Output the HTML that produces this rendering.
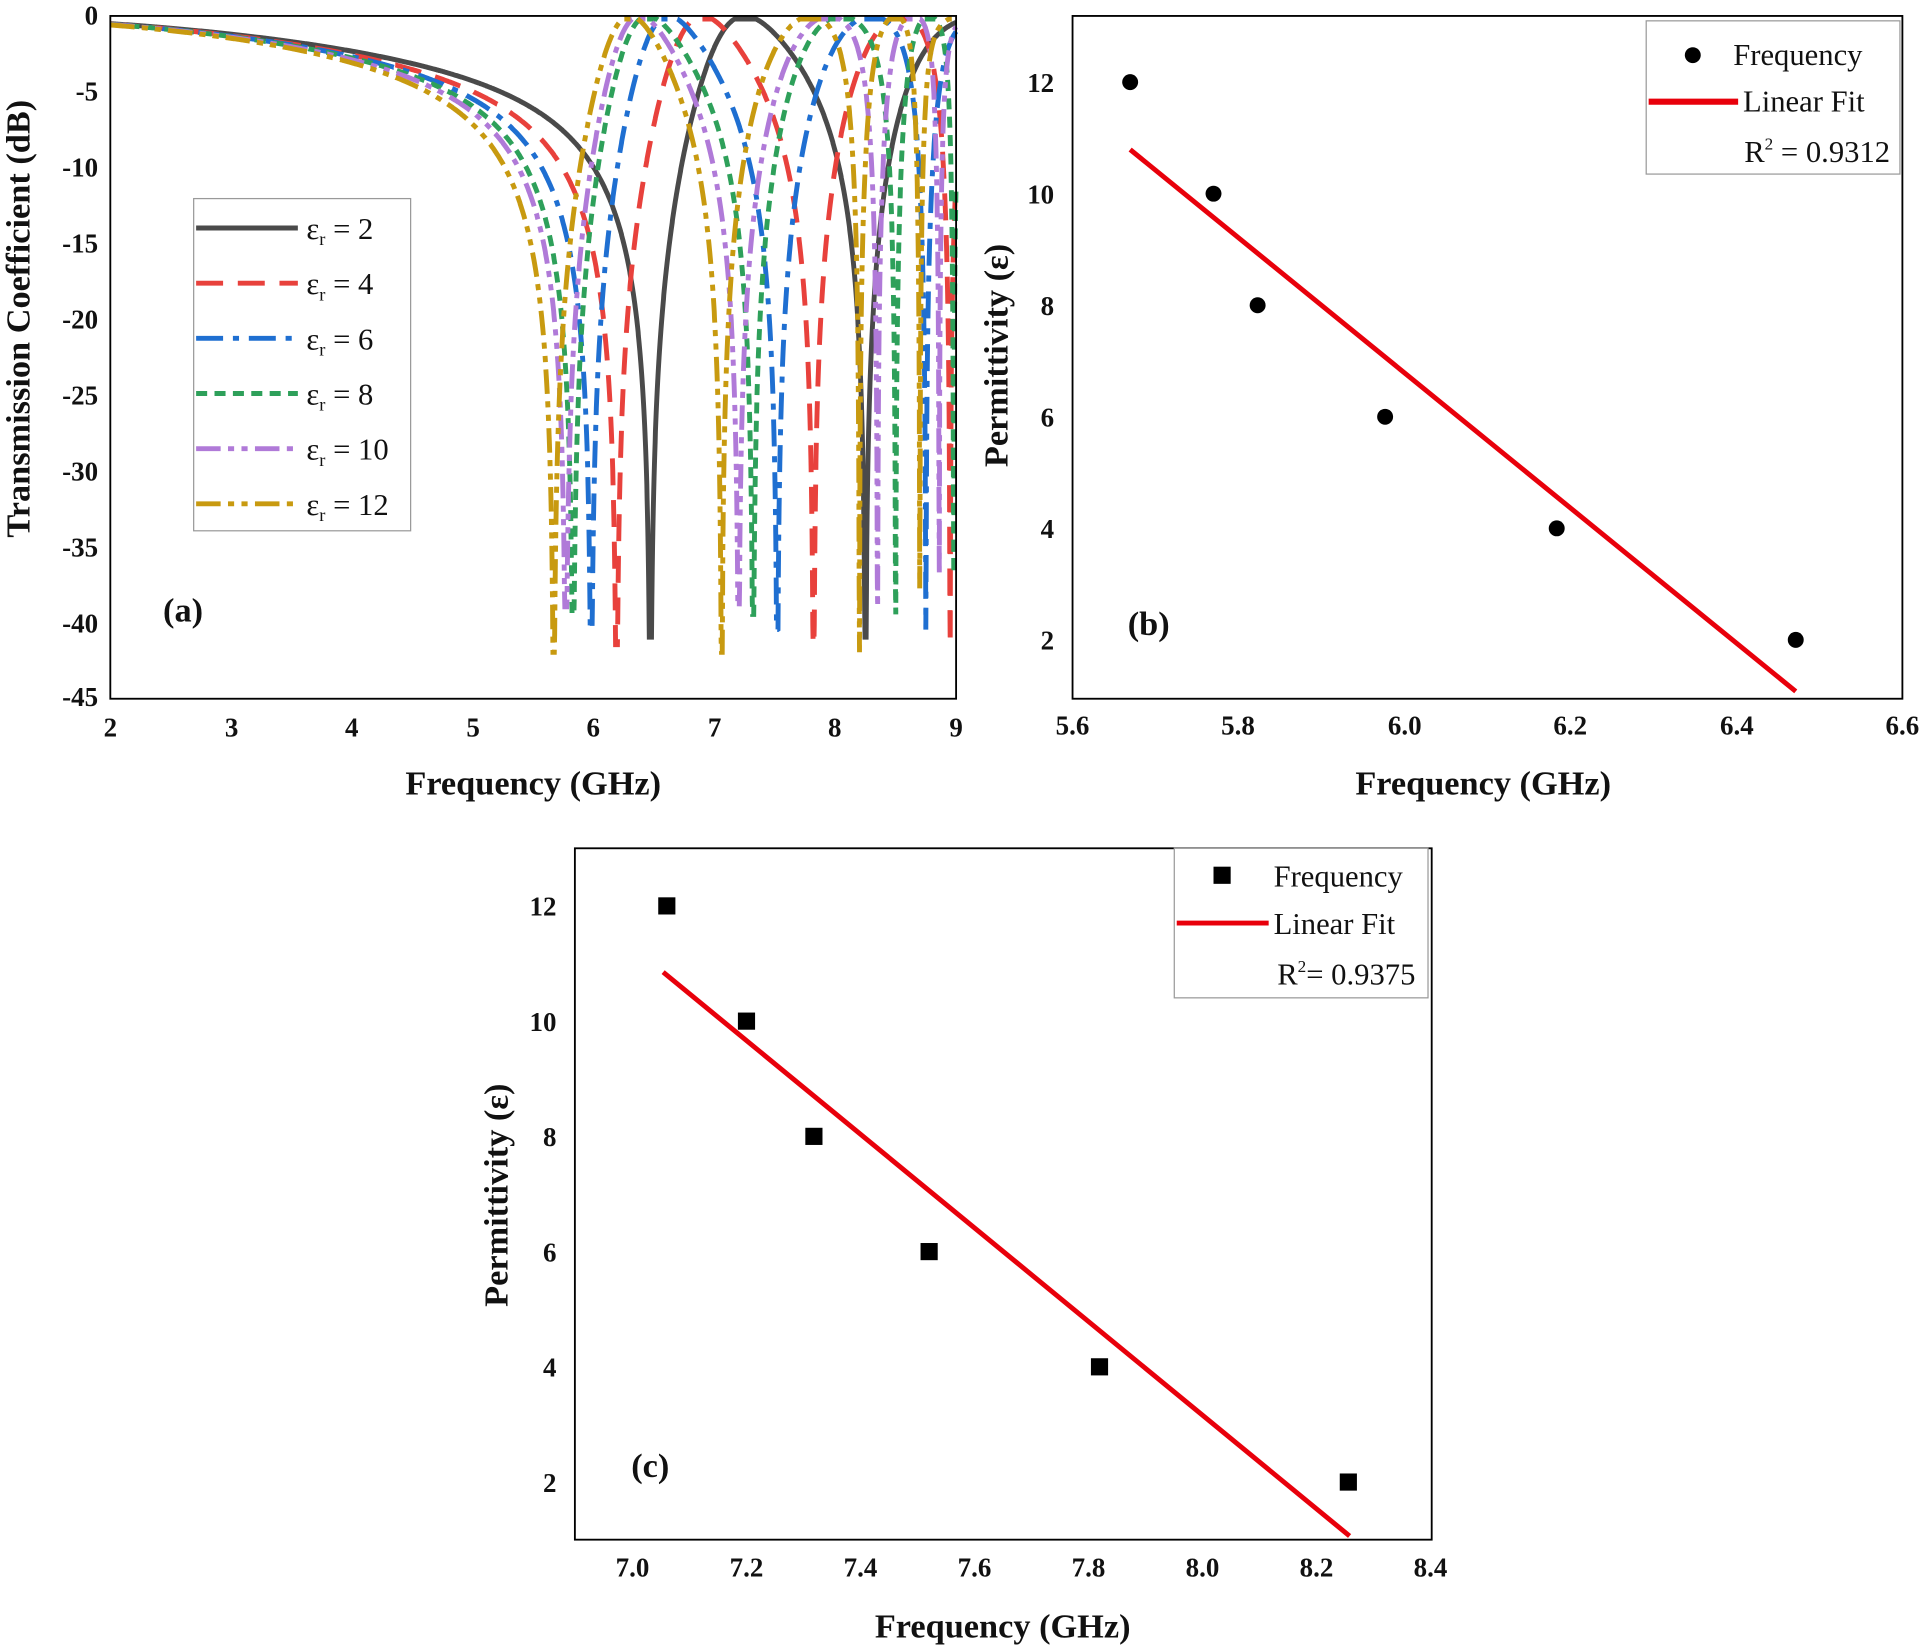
<!DOCTYPE html>
<html><head><meta charset="utf-8"><style>
html,body{margin:0;padding:0;background:#fff}
svg{display:block}
text{font-family:"Liberation Serif",serif;fill:#111}
.t{font-size:22px;font-weight:bold}
.lab{font-size:28px;font-weight:bold}
.lg{font-size:25px}
</style></head><body>
<svg id="s" width="1922" height="1650" viewBox="0 0 1568 1346" preserveAspectRatio="none" xmlns="http://www.w3.org/2000/svg">
<g id="a"></g>
<rect x="90" y="13" width="690" height="557" fill="none" stroke="#000" stroke-width="1.5"/>
<g class="t" text-anchor="end">
<text x="80" y="20">0</text><text x="80" y="82">-5</text><text x="80" y="144">-10</text><text x="80" y="206">-15</text><text x="80" y="268">-20</text><text x="80" y="330">-25</text><text x="80" y="392">-30</text><text x="80" y="454">-35</text><text x="80" y="516">-40</text><text x="80" y="576">-45</text>
</g>
<g class="t" text-anchor="middle">
<text x="90" y="601">2</text><text x="189" y="601">3</text><text x="287" y="601">4</text><text x="386" y="601">5</text><text x="484" y="601">6</text><text x="583" y="601">7</text><text x="681" y="601">8</text><text x="780" y="601">9</text>
</g>
<text class="lab" x="435" y="648" text-anchor="middle">Frequency (GHz)</text>
<text class="lab" transform="translate(24,260) rotate(-90)" text-anchor="middle">Transmission Coefficient (dB)</text>
<text class="lab" x="133" y="507">(a)</text>
<rect x="158" y="162" width="177" height="271" fill="#fff" stroke="#999" stroke-width="1"/>
<g id="leg"></g>

<rect x="875" y="13" width="677" height="557" fill="none" stroke="#000" stroke-width="1.5"/>
<g class="t" text-anchor="end">
<text x="860" y="75">12</text><text x="860" y="166">10</text><text x="860" y="257">8</text><text x="860" y="348">6</text><text x="860" y="439">4</text><text x="860" y="530">2</text>
</g>
<g class="t" text-anchor="middle">
<text x="875" y="599">5.6</text><text x="1010" y="599">5.8</text><text x="1146" y="599">6.0</text><text x="1281" y="599">6.2</text><text x="1417" y="599">6.4</text><text x="1552" y="599">6.6</text>
</g>
<text class="lab" x="1210" y="648" text-anchor="middle">Frequency (GHz)</text>
<text class="lab" transform="translate(822,290) rotate(-90)" text-anchor="middle">Permittivity (ε)</text>
<text class="lab" x="920" y="518">(b)</text>
<line x1="922" y1="122" x2="1465" y2="564" stroke="#e8000b" stroke-width="4"/>
<g fill="#000"><circle cx="922" cy="67" r="6.5"/><circle cx="990" cy="158" r="6.5"/><circle cx="1026" cy="249" r="6.5"/><circle cx="1130" cy="340" r="6.5"/><circle cx="1270" cy="431" r="6.5"/><circle cx="1465" cy="522" r="6.5"/></g>
<rect x="1343" y="17" width="207" height="125" fill="#fff" stroke="#999"/>
<circle cx="1381" cy="45" r="6.5" fill="#000"/>
<text class="lg" x="1414" y="53">Frequency</text>
<line x1="1345" y1="83" x2="1418" y2="83" stroke="#e8000b" stroke-width="5"/>
<text class="lg" x="1422" y="91">Linear Fit</text>
<text class="lg" x="1423" y="132">R<tspan font-size="14" dy="-10">2</tspan><tspan dy="10"> = 0.9312</tspan></text>

<rect x="469" y="692" width="699" height="564" fill="none" stroke="#000" stroke-width="1.5"/>
<g class="t" text-anchor="end">
<text x="454" y="747">12</text><text x="454" y="841">10</text><text x="454" y="935">8</text><text x="454" y="1029">6</text><text x="454" y="1123">4</text><text x="454" y="1217">2</text>
</g>
<g class="t" text-anchor="middle">
<text x="516" y="1286">7.0</text><text x="609" y="1286">7.2</text><text x="702" y="1286">7.4</text><text x="795" y="1286">7.6</text><text x="888" y="1286">7.8</text><text x="981" y="1286">8.0</text><text x="1074" y="1286">8.2</text><text x="1167" y="1286">8.4</text>
</g>
<text class="lab" x="818" y="1336" text-anchor="middle">Frequency (GHz)</text>
<text class="lab" transform="translate(414,975) rotate(-90)" text-anchor="middle">Permittivity (ε)</text>
<text class="lab" x="515" y="1205">(c)</text>
<line x1="541" y1="793" x2="1101" y2="1253" stroke="#e8000b" stroke-width="4"/>
<g fill="#000"><rect x="537" y="732" width="14" height="14"/><rect x="602" y="826" width="14" height="14"/><rect x="657" y="920" width="14" height="14"/><rect x="751" y="1014" width="14" height="14"/><rect x="890" y="1108" width="14" height="14"/><rect x="1093" y="1202" width="14" height="14"/></g>
<rect x="958" y="692" width="207" height="122" fill="#fff" stroke="#999"/>
<rect x="990" y="707" width="14" height="14" fill="#000"/>
<text class="lg" x="1039" y="723">Frequency</text>
<line x1="960" y1="753" x2="1035" y2="753" stroke="#e8000b" stroke-width="4"/>
<text class="lg" x="1039" y="762">Linear Fit</text>
<text class="lg" x="1042" y="803">R<tspan font-size="14" dy="-10">2</tspan><tspan dy="10">= 0.9375</tspan></text>
</svg>
<script>
(function(){
var NS="http://www.w3.org/2000/svg";
var series=[
 {e:2,c:"#4a4a4a",d:"",z:[6.47,8.25],p:[7.25,9.3],m:-41},
 {e:4,c:"#e8413c",d:"22 12",z:[6.19,7.82,8.95],p:[6.9,8.55,9.5],m:-41.5},
 {e:6,c:"#1f6fd1",d:"22 8 5 8",z:[5.98,7.52,8.75],p:[6.62,8.3,9.3],m:-40.5},
 {e:8,c:"#2ea05a",d:"9 6",z:[5.83,7.32,8.5,8.98],p:[6.45,8.05,8.78,9.3],m:-39.5},
 {e:10,c:"#b07ad8",d:"20 6 5 6 5 6",z:[5.77,7.2,8.35,8.86],p:[6.38,7.95,8.65,9.2],m:-39},
 {e:12,c:"#c89a10",d:"20 6 5 6 5 6",z:[5.67,7.06,8.2,8.7],p:[6.3,7.8,8.5,9.1],m:-42}];
var g=document.getElementById("a"),L=document.getElementById("leg");
series.forEach(function(s,i){
 var pts=[];
 for(var f=2;f<=9.0001;f+=0.003){
  var X=7.8/f;
  for(var k=0;k<s.z.length;k++){X*=(f-s.z[k])/(f-s.p[k]);}
  var r=X*X/(X*X+1);
  var db=10*Math.log10(Math.max(r,1e-6));
  if(db<s.m)db=s.m;
  if(db>-0.2)db=-0.2;
  pts.push((90+(f-2)*98.57).toFixed(1)+","+(13+(-db)*12.36).toFixed(1));
 }
 var p=document.createElementNS(NS,"polyline");
 p.setAttribute("points",pts.join(" "));p.setAttribute("fill","none");p.setAttribute("stroke",s.c);
 p.setAttribute("stroke-width","4");if(s.d)p.setAttribute("stroke-dasharray",s.d);
 g.appendChild(p);
 var y=186+i*45;
 var l=document.createElementNS(NS,"line");
 l.setAttribute("x1",160);l.setAttribute("x2",243);l.setAttribute("y1",y);l.setAttribute("y2",y);
 l.setAttribute("stroke",s.c);l.setAttribute("stroke-width","4");if(s.d)l.setAttribute("stroke-dasharray",s.d);
 L.appendChild(l);
 var t=document.createElementNS(NS,"text");t.setAttribute("class","lg");t.setAttribute("x",250);t.setAttribute("y",y+9);
 t.innerHTML='ε<tspan font-size="15" dy="5">r</tspan><tspan dy="-5"> = '+s.e+'</tspan>';
 L.appendChild(t);
});
})();
</script>
</body></html>
